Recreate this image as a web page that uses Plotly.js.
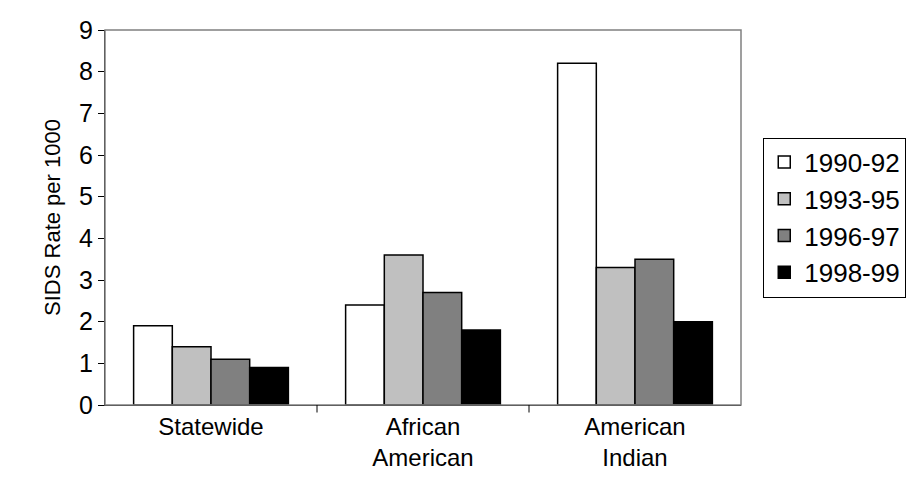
<!DOCTYPE html>
<html>
<head>
<meta charset="utf-8">
<script src="https://cdn.plot.ly/plotly-3.0.1.min.js"></script>
<style>body{margin:0;background:#fff}</style>
</head>
<body>
<div id="chart" style="width:918px;height:481px"></div>
<script>
// category labels and per-period SIDS rates
const categories = ['Statewide', 'African<br>American', 'American<br>Indian'];
const periods = ['1990-92', '1993-95', '1996-97', '1998-99'];
const rate9092 = [1.9, 2.4, 8.2];
const rate9395 = [1.4, 3.6, 3.3];
const rate9697 = [1.1, 2.7, 3.5];
const rate9899 = [0.9, 1.8, 2.0];
const colors = ['#ffffff', '#c0c0c0', '#808080', '#000000'];

const series = [rate9092, rate9395, rate9697, rate9899];
const traces = series.map((vals, i) => ({
    x: categories,
    y: vals,
    type: 'bar',
    name: periods[i],
    marker: { color: colors[i], line: { color: '#000', width: 1.5 } }
}));

const layout = {
    width: 918, height: 481,
    paper_bgcolor: '#fff',
    plot_bgcolor: '#fff',
    font: { family: 'Arial, Liberation Sans, sans-serif', size: 24, color: '#000' },
    margin: { l: 105, r: 168, t: 30, b: 76 },
    bargap: 0.27,
    bargroupgap: 0,
    xaxis: {
        showline: true, linecolor: '#000', linewidth: 1,
        ticks: '', tickfont: { size: 24 },
        showgrid: false
    },
    yaxis: {
        range: [0, 9], dtick: 1,
        showline: true, linecolor: '#000', linewidth: 1,
        ticks: 'outside', ticklen: 6, tickcolor: '#000',
        tickfont: { size: 25 },
        showgrid: false, zeroline: false,
        title: { text: 'SIDS Rate per 1000', font: { size: 22 }, standoff: 12 }
    },
    shapes: [
        { type: 'rect', xref: 'paper', yref: 'paper', x0: 0, x1: 1, y0: 0, y1: 1,
          line: { color: '#808080', width: 1.5 } },
        { type: 'line', xref: 'x', yref: 'paper', x0: 0.5, x1: 0.5, y0: 0, y1: -0.02, line: { color: '#000', width: 1 } },
        { type: 'line', xref: 'x', yref: 'paper', x0: 1.5, x1: 1.5, y0: 0, y1: -0.02, line: { color: '#000', width: 1 } }
    ],
    legend: {
        x: 1.035, xanchor: 'left', y: 0.5, yanchor: 'middle',
        bordercolor: '#000', borderwidth: 1,
        font: { size: 26 },
        tracegroupgap: 0,
        itemwidth: 30
    },
    showlegend: true
};

Plotly.newPlot('chart', traces, layout, { displayModeBar: false });
</script>
</body>
</html>
